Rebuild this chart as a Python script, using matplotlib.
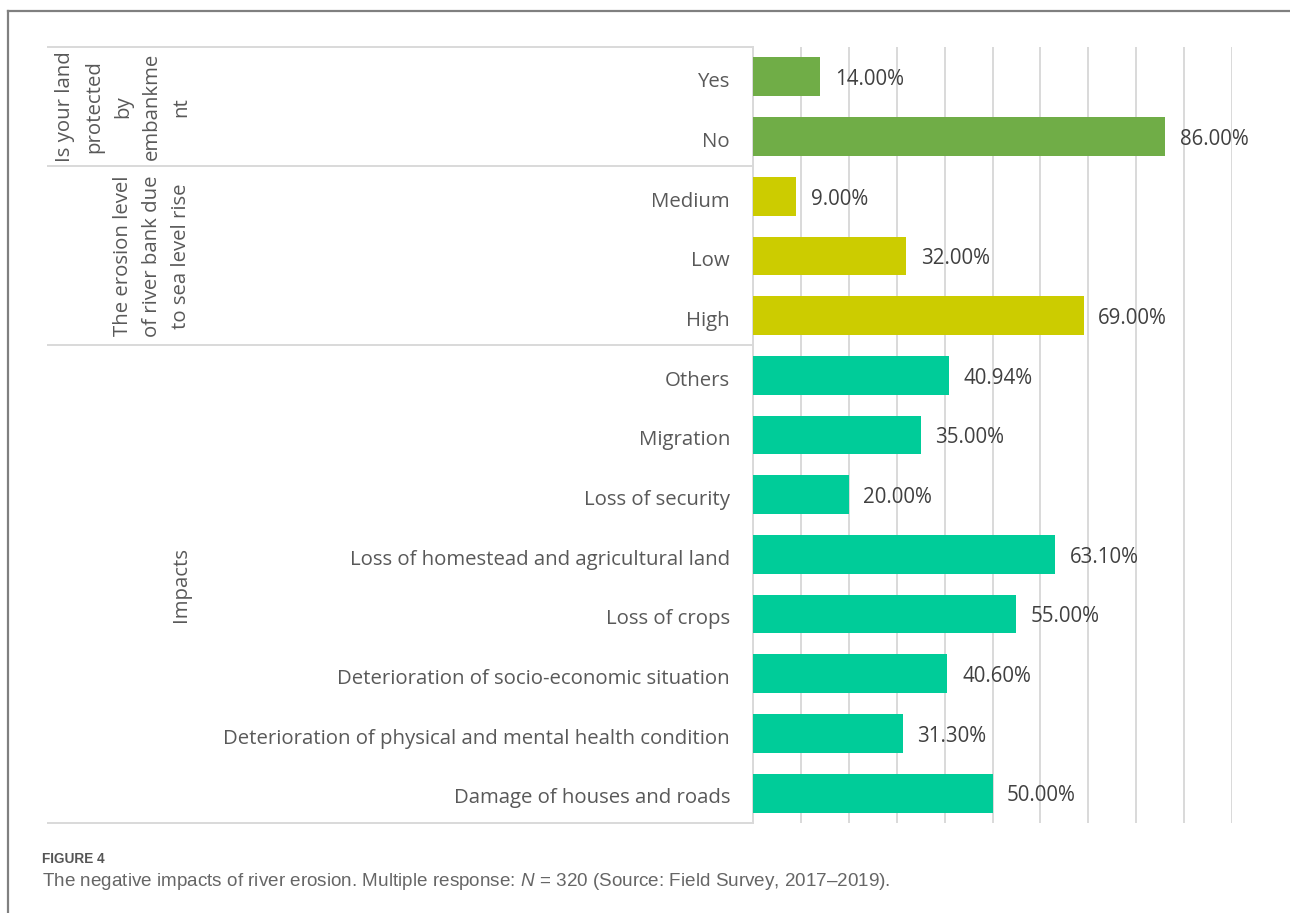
import numpy as np
import matplotlib.pyplot as plt
from matplotlib.lines import Line2D
from matplotlib.transforms import blended_transform_factory, ScaledTranslation

plt.rcParams['font.family'] = ['Open Sans', 'DejaVu Sans']
plt.rcParams['mathtext.fontset'] = 'custom'
plt.rcParams['mathtext.rm'] = 'Liberation Sans'
plt.rcParams['mathtext.it'] = 'Liberation Sans:italic'

# survey answers, top to bottom
labels = ["Yes", "No",
          "Medium", "Low", "High",
          "Others", "Migration", "Loss of security",
          "Loss of homestead and agricultural land", "Loss of crops",
          "Deterioration of socio-economic situation",
          "Deterioration of physical and mental health condition",
          "Damage of houses and roads"]
values = [14.00, 86.00,
          9.00, 32.00, 69.00,
          40.94, 35.00, 20.00, 63.10, 55.00, 40.60, 31.30, 50.00]

groups = ["Is your land\nprotected\nby\nembankme\nnt",
          "The erosion level\nof river bank due\nto sea level rise",
          "Impacts"]
group_sizes = [2, 3, 8]
group_colors = ["#70AD47", "#CCCC00", "#00CC99"]

W, H = 1290, 913
fig = plt.figure(figsize=(W / 100, H / 100), dpi=100)
ax = fig.add_axes([753 / W, 1 - 823 / H, (1232 - 753) / W, (823 - 47) / H])

colors = []
for c, n in zip(group_colors, group_sizes):
    colors += [c] * n

y = np.arange(len(labels))
vals = np.array(values) / 100
ax.barh(y, vals, height=0.65, color=colors, zorder=3)

for yi, v in zip(y, values):
    ax.annotate(f"{v:.2f}%", (v / 100, yi), xytext=(10.5, -2),
                textcoords="offset points", va="center", ha="left",
                fontsize=14.8, color="#404040", annotation_clip=False, zorder=4)

ax.set_xlim(0, 1)
ax.set_ylim(len(labels) - 0.5, -0.5)
ax.set_xticks(np.arange(0, 1.01, 0.1))
ax.set_xticklabels([])
ax.grid(axis="x", color="#d9d9d9", linewidth=1.4, zorder=0)
ax.tick_params(axis="both", length=0)
ax.set_yticks(y)
ax.set_yticklabels(labels, fontsize=14.7, color="#595959")
ax.tick_params(axis="y", pad=16.5)
shift = ScaledTranslation(0, -2 / 72, fig.dpi_scale_trans)
for lab in ax.get_yticklabels():
    lab.set_transform(lab.get_transform() + shift)
for s in ["top", "right", "bottom"]:
    ax.spines[s].set_visible(False)
ax.spines["left"].set_color("#d9d9d9")
ax.spines["left"].set_linewidth(1.4)

# category table lines and group headers on the left
tr = blended_transform_factory(fig.transFigure, ax.transData)
bounds = np.concatenate([[0], np.cumsum(group_sizes)]) - 0.5
for b in bounds:
    fig.add_artist(Line2D([48 / W, 753 / W], [b, b], transform=tr,
                          color="#d9d9d9", linewidth=1.4))
for g, lo, hi in zip(groups, bounds[:-1], bounds[1:]):
    fig.text(191 / W, (lo + hi) / 2, g, transform=tr, rotation=90,
             ha="right", va="center", multialignment="center",
             fontsize=14.7, color="#595959", linespacing=1.6)

# outer frame (top and left edges)
fig.add_artist(Line2D([8 / W, 1], [1 - 11 / H, 1 - 11 / H], color="#808080", linewidth=1.6))
fig.add_artist(Line2D([8 / W, 8 / W], [0, 1 - 11 / H], color="#808080", linewidth=1.6))

# caption
fig.text(42 / W, 1 - 859 / H, "FIGURE 4", fontsize=9.8, color="#555555",
         family="Liberation Sans", weight="bold", va="center", ha="left")
fig.text(42 / W, 1 - 881 / H,
         "The negative impacts of river erosion. Multiple response: $N$ = 320 "
         "(Source: Field Survey, 2017\u20132019).",
         fontsize=13.6, color="#666666", family="Liberation Sans",
         va="center", ha="left")

fig.savefig("out.png", dpi=100)
